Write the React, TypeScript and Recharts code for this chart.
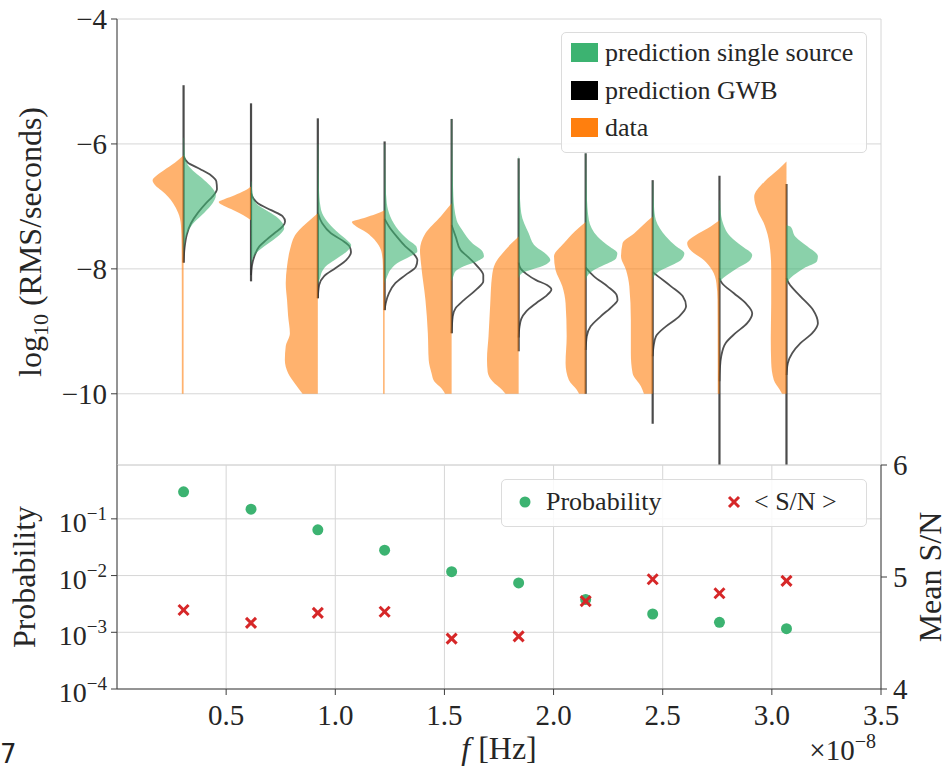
import React from "react";
import {
  Area,
  CartesianGrid,
  ComposedChart,
  Label,
  Legend,
  Line,
  ReferenceLine,
  Scatter,
  XAxis,
  YAxis,
} from "recharts";

const SERIF = '"Liberation Serif", "Times New Roman", serif';
const INK = "#262626";
const SPINE = "#3d3d3d";
const GRID = "#d6d6d6";
const ORANGE = "#ff7f0e";
const GREEN = "#3cb371";
const RED = "#d62728";

// frequency bins, in units of 1e-8 Hz
const freqs = [0.305, 0.614, 0.92, 1.226, 1.533, 1.84, 2.147, 2.454, 2.76, 3.067];

type Profile = [number, number][];

// measured RMS distribution (left halves): [log10 RMS, half-width in 1e-8 Hz]
const dataHalves: Profile[] = [
  [[-6.18, 0], [-6.3, 0.04], [-6.42, 0.09], [-6.5, 0.122], [-6.58, 0.142], [-6.66, 0.13], [-6.75, 0.1], [-6.85, 0.07], [-6.95, 0.048], [-7.1, 0.025], [-7.3, 0.012], [-7.6, 0.009], [-8.5, 0.008], [-9.5, 0.008], [-10, 0.008]],
  [[-6.68, 0], [-6.75, 0.03], [-6.82, 0.075], [-6.88, 0.12], [-6.93, 0.148], [-6.99, 0.125], [-7.06, 0.08], [-7.14, 0.035], [-7.22, 0]],
  [[-7.11, 0], [-7.22, 0.037], [-7.43, 0.098], [-7.7, 0.128], [-7.96, 0.141], [-8.23, 0.147], [-8.5, 0.141], [-8.76, 0.136], [-9.03, 0.128], [-9.24, 0.147], [-9.46, 0.151], [-9.67, 0.136], [-9.83, 0.106], [-10, 0.07]],
  [[-7.06, 0], [-7.12, 0.04], [-7.18, 0.09], [-7.25, 0.15], [-7.32, 0.13], [-7.4, 0.09], [-7.5, 0.055], [-7.62, 0.028], [-7.75, 0.013], [-7.95, 0.008], [-8.8, 0.007], [-10, 0.007]],
  [[-6.95, 0], [-7.16, 0.05], [-7.43, 0.12], [-7.7, 0.145], [-7.96, 0.139], [-8.5, 0.12], [-9.03, 0.109], [-9.46, 0.105], [-9.67, 0.092], [-9.8, 0.08], [-9.92, 0.045], [-10, 0.03]],
  [[-7.48, 0], [-7.6, 0.035], [-7.7, 0.061], [-7.91, 0.107], [-8.12, 0.122], [-8.55, 0.13], [-9.08, 0.138], [-9.45, 0.145], [-9.65, 0.142], [-9.8, 0.12], [-9.94, 0.075], [-10, 0.06]],
  [[-7.25, 0], [-7.4, 0.05], [-7.59, 0.1], [-7.8, 0.145], [-8.02, 0.138], [-8.28, 0.107], [-8.55, 0.092], [-9.08, 0.087], [-9.51, 0.092], [-9.78, 0.077], [-9.94, 0.04], [-10, 0.03]],
  [[-7.16, 0], [-7.3, 0.045], [-7.43, 0.084], [-7.59, 0.138], [-7.8, 0.145], [-8.02, 0.122], [-8.28, 0.107], [-8.82, 0.1], [-9.35, 0.1], [-9.67, 0.092], [-9.88, 0.054], [-10, 0.04]],
  [[-7.22, 0], [-7.32, 0.04], [-7.43, 0.095], [-7.59, 0.148], [-7.7, 0.133], [-7.86, 0.072], [-8.02, 0.034], [-8.23, 0.014], [-8.5, 0.009], [-9.5, 0.008], [-10, 0.008]],
  [[-6.28, 0], [-6.4, 0.035], [-6.6, 0.1], [-6.85, 0.148], [-7.05, 0.135], [-7.3, 0.1], [-7.6, 0.078], [-8.0, 0.07], [-8.55, 0.07], [-9.1, 0.072], [-9.5, 0.07], [-9.78, 0.058], [-9.94, 0.03], [-10, 0.02]],
];

// single-source prediction (right halves)
const singleHalves: Profile[] = [
  [[-5.9, 0.002], [-6.1, 0.004], [-6.25, 0.01], [-6.35, 0.022], [-6.45, 0.05], [-6.58, 0.095], [-6.7, 0.13], [-6.82, 0.148], [-6.95, 0.133], [-7.1, 0.095], [-7.25, 0.05], [-7.4, 0.02], [-7.55, 0.007], [-7.8, 0]],
  [[-6.6, 0.002], [-6.8, 0.008], [-6.95, 0.023], [-7.06, 0.069], [-7.16, 0.115], [-7.27, 0.145], [-7.35, 0.152], [-7.43, 0.138], [-7.54, 0.1], [-7.64, 0.061], [-7.75, 0.023], [-7.86, 0.005], [-7.95, 0]],
  [[-6.0, 0.002], [-6.7, 0.005], [-7.0, 0.012], [-7.11, 0.02], [-7.27, 0.05], [-7.43, 0.096], [-7.54, 0.134], [-7.62, 0.153], [-7.72, 0.134], [-7.83, 0.089], [-7.94, 0.043], [-8.04, 0.02], [-8.15, 0.01], [-8.25, 0]],
  [[-6.0, 0.002], [-6.6, 0.004], [-6.95, 0.01], [-7.16, 0.026], [-7.38, 0.064], [-7.54, 0.11], [-7.64, 0.145], [-7.72, 0.15], [-7.8, 0.118], [-7.91, 0.057], [-8.02, 0.026], [-8.12, 0.012], [-8.23, 0]],
  [[-5.6, 0.002], [-6.3, 0.004], [-6.84, 0.008], [-7.22, 0.023], [-7.38, 0.049], [-7.59, 0.095], [-7.72, 0.141], [-7.8, 0.148], [-7.88, 0.118], [-7.96, 0.056], [-8.04, 0.018], [-8.12, 0.008], [-8.2, 0]],
  [[-6.2, 0.002], [-6.68, 0.004], [-7.11, 0.012], [-7.43, 0.046], [-7.64, 0.077], [-7.78, 0.13], [-7.86, 0.145], [-7.96, 0.107], [-8.02, 0.054], [-8.07, 0.015], [-8.15, 0]],
  [[-6.15, 0.002], [-6.8, 0.005], [-7.22, 0.015], [-7.48, 0.054], [-7.64, 0.107], [-7.75, 0.145], [-7.83, 0.14], [-7.94, 0.084], [-8.02, 0.038], [-8.1, 0.011], [-8.2, 0]],
  [[-6.6, 0.002], [-7.0, 0.006], [-7.22, 0.015], [-7.48, 0.061], [-7.64, 0.107], [-7.75, 0.145], [-7.86, 0.13], [-7.96, 0.077], [-8.04, 0.03], [-8.1, 0.01], [-8.18, 0]],
  [[-6.9, 0.003], [-7.1, 0.006], [-7.22, 0.012], [-7.48, 0.05], [-7.64, 0.104], [-7.78, 0.15], [-7.88, 0.135], [-7.99, 0.081], [-8.1, 0.035], [-8.18, 0.008], [-8.25, 0]],
  [[-7.3, 0], [-7.32, 0.018], [-7.48, 0.04], [-7.64, 0.095], [-7.8, 0.144], [-7.88, 0.14], [-7.99, 0.08], [-8.1, 0.034], [-8.18, 0.01], [-8.25, 0]],
];

// background (GWB) prediction, drawn as an outline on the right side
const gwbCurves: Profile[] = [
  [[-6.2, 0], [-6.3, 0.02], [-6.4, 0.075], [-6.5, 0.125], [-6.6, 0.15], [-6.72, 0.153], [-6.84, 0.133], [-6.95, 0.102], [-7.1, 0.066], [-7.27, 0.034], [-7.45, 0.015], [-7.65, 0.005], [-7.9, 0]],
  [[-6.79, 0], [-6.88, 0.012], [-6.95, 0.031], [-7.06, 0.092], [-7.16, 0.145], [-7.24, 0.156], [-7.32, 0.145], [-7.43, 0.107], [-7.54, 0.069], [-7.64, 0.038], [-7.8, 0.015], [-7.95, 0.004], [-8.1, 0]],
  [[-7.1, 0], [-7.27, 0.02], [-7.43, 0.06], [-7.54, 0.11], [-7.64, 0.145], [-7.73, 0.152], [-7.86, 0.13], [-7.99, 0.08], [-8.12, 0.028], [-8.26, 0.006], [-8.47, 0]],
  [[-7.2, 0], [-7.32, 0.02], [-7.48, 0.055], [-7.64, 0.095], [-7.76, 0.133], [-7.86, 0.15], [-7.97, 0.143], [-8.1, 0.095], [-8.23, 0.049], [-8.39, 0.02], [-8.55, 0.005], [-8.66, 0]],
  [[-7.3, 0], [-7.5, 0.02], [-7.7, 0.041], [-7.8, 0.072], [-7.96, 0.118], [-8.1, 0.145], [-8.2, 0.145], [-8.34, 0.11], [-8.5, 0.056], [-8.63, 0.018], [-8.76, 0.005], [-9.03, 0]],
  [[-7.9, 0], [-8.0, 0.01], [-8.08, 0.035], [-8.18, 0.08], [-8.26, 0.13], [-8.33, 0.15], [-8.42, 0.13], [-8.55, 0.08], [-8.68, 0.035], [-8.8, 0.012], [-8.95, 0.003], [-9.1, 0]],
  [[-7.98, 0], [-8.12, 0.038], [-8.28, 0.1], [-8.42, 0.142], [-8.5, 0.146], [-8.6, 0.122], [-8.76, 0.069], [-8.92, 0.023], [-9.08, 0.005], [-9.3, 0]],
  [[-8.05, 0], [-8.12, 0.025], [-8.28, 0.084], [-8.44, 0.138], [-8.6, 0.153], [-8.76, 0.122], [-8.92, 0.061], [-9.08, 0.015], [-9.24, 0.004], [-9.4, 0]],
  [[-8.15, 0], [-8.23, 0.012], [-8.39, 0.066], [-8.55, 0.12], [-8.71, 0.15], [-8.87, 0.127], [-9.03, 0.073], [-9.19, 0.028], [-9.4, 0.008], [-9.6, 0.002], [-9.8, 0]],
  [[-8.15, 0], [-8.23, 0.011], [-8.44, 0.064], [-8.66, 0.122], [-8.87, 0.144], [-9.03, 0.118], [-9.19, 0.064], [-9.35, 0.026], [-9.51, 0.006], [-9.7, 0]],
];

// full extent of each GWB prediction: [top, bottom]
const gwbRanges: [number, number][] = [
  [-5.06, -7.9], [-5.35, -8.2], [-5.59, -8.47], [-5.96, -8.66], [-5.6, -9.03],
  [-6.23, -9.32], [-6.15, -10.0], [-6.58, -10.48], [-6.51, -11.6], [-6.64, -11.6],
];

// lower panel
const probability = [0.3, 0.148, 0.064, 0.028, 0.0117, 0.0074, 0.0038, 0.0021, 0.0015, 0.00116];
const meanSnr = [4.705, 4.59, 4.68, 4.69, 4.45, 4.47, 4.785, 4.98, 4.855, 4.965];

const xTicks = [0.5, 1, 1.5, 2, 2.5, 3, 3.5];
const rmsTicks = [-4, -6, -8, -10];
const rmsDomain: [number, number] = [-11.14, -4];
const probTicks = [1e-4, 1e-3, 1e-2, 1e-1];
const probDomain: [number, number] = [1e-4, 0.89];
const probMinor = [-4, -3, -2, -1].flatMap((e) => [2, 3, 4, 5, 6, 7, 8, 9].map((m) => m * 10 ** e));
const snrTicks = [4, 5, 6];

const upperLegend = [
  { label: "prediction single source", color: GREEN },
  { label: "prediction GWB", color: "#000000" },
  { label: "data", color: ORANGE },
];

const minus = (v: number) => (v < 0 ? `\u2212${-v}` : `${v}`);
const serifStyle = { fontFamily: SERIF };
const tickFont = { fontSize: 29, fill: INK, style: serifStyle };

function PowTick(props: any) {
  const { x, y, payload } = props;
  const exp = Math.round(Math.log10(payload.value));
  return (
    <text x={x} y={y + 13} textAnchor="end" style={serifStyle} fontSize={28} fill={INK}>
      10
      <tspan dy={-12} fontSize={19}>{minus(exp)}</tspan>
    </text>
  );
}

function Dot(props: any) {
  return <circle cx={props.cx} cy={props.cy} r={5.5} fill={GREEN} />;
}

function Cross(props: any) {
  const { cx, cy } = props;
  const s = 5;
  return (
    <g stroke={RED} strokeWidth={3}>
      <line x1={cx - s} y1={cy - s} x2={cx + s} y2={cy + s} />
      <line x1={cx - s} y1={cy + s} x2={cx + s} y2={cy - s} />
    </g>
  );
}

function UpperLegendBox() {
  return (
    <div
      style={{
        position: "relative",
        width: 306,
        height: 121,
        boxSizing: "border-box",
        border: "1px solid #dcdcdc",
        borderRadius: 5,
        background: "rgba(255,255,255,0.85)",
        fontFamily: SERIF,
        fontSize: 26,
        color: INK,
      }}
    >
      {upperLegend.map((item, i) => (
        <div key={item.label} style={{ position: "absolute", left: 9, top: 10 + i * 37.5, height: 19, display: "flex", alignItems: "center" }}>
          <span style={{ display: "inline-block", width: 27, height: 19, background: item.color }} />
          <span style={{ marginLeft: 7, whiteSpace: "nowrap", lineHeight: "19px" }}>{item.label}</span>
        </div>
      ))}
    </div>
  );
}

function LowerLegendBox() {
  return (
    <div
      style={{
        position: "relative",
        width: 366,
        height: 48,
        boxSizing: "border-box",
        border: "1px solid #dcdcdc",
        borderRadius: 5,
        background: "rgba(255,255,255,0.85)",
        fontFamily: SERIF,
        fontSize: 26,
        color: INK,
      }}
    >
      <svg width={366} height={48} style={{ position: "absolute", left: 0, top: 0 }}>
        <circle cx={23} cy={22} r={5.5} fill={GREEN} />
        <Cross cx={232} cy={22} />
      </svg>
      <span style={{ position: "absolute", left: 44, top: 8, lineHeight: "28px", whiteSpace: "nowrap" }}>Probability</span>
      <span style={{ position: "absolute", left: 252, top: 8, lineHeight: "28px", whiteSpace: "nowrap" }}>&lt; S/N &gt;</span>
    </div>
  );
}

function ViolinPanel() {
  return (
    <ComposedChart layout="vertical" width={947} height={470} margin={{ top: 19, right: 66, bottom: 5, left: 0 }}>
      <CartesianGrid stroke={GRID} strokeWidth={1} />
      <XAxis type="number" domain={[0, 3.5]} ticks={xTicks} allowDataOverflow height={0} tick={false} tickLine={false} axisLine={{ stroke: SPINE }} />
      <XAxis xAxisId="top" orientation="top" type="number" domain={[0, 3.5]} ticks={xTicks} allowDataOverflow height={0} tick={false} tickSize={6} tickLine={{ stroke: SPINE }} axisLine={{ stroke: SPINE }} />
      <YAxis
        type="number"
        dataKey="y"
        domain={rmsDomain}
        ticks={rmsTicks}
        reversed
        allowDataOverflow
        width={117}
        tickSize={6}
        tickMargin={4}
        tickFormatter={minus}
        tick={tickFont}
        tickLine={{ stroke: SPINE }}
        axisLine={{ stroke: SPINE }}
      >
        <Label
          content={(p: any) => {
            const vb = p.viewBox;
            const cx = vb.x + 30;
            const cy = vb.y + vb.height / 2;
            return (
              <text x={cx} y={cy} transform={`rotate(-90 ${cx} ${cy})`} textAnchor="middle" dy={11} style={serifStyle} fontSize={32} fill={INK}>
                log<tspan fontSize={22} dy={7}>10</tspan>
                <tspan dy={-7}> (RMS/seconds)</tspan>
              </text>
            );
          }}
        />
      </YAxis>
      <YAxis yAxisId="right" orientation="right" type="number" domain={rmsDomain} ticks={rmsTicks} reversed allowDataOverflow width={0} tick={false} tickSize={6} tickLine={{ stroke: SPINE }} axisLine={{ stroke: SPINE }} />

      {freqs.map((f, i) => (
        <React.Fragment key={i}>
          <ReferenceLine
            segment={[{ x: f, y: gwbRanges[i][0] }, { x: f, y: gwbRanges[i][1] }]}
            ifOverflow="hidden"
            stroke="#2b2b2b"
            strokeOpacity={0.85}
            strokeWidth={2.2}
            zIndex={50}
          />
          <Line
            data={gwbCurves[i].map(([y, w]) => ({ y, x: f + w }))}
            dataKey="x"
            type="monotone"
            stroke="#333333"
            strokeOpacity={0.85}
            strokeWidth={1.8}
            dot={false}
            activeDot={false}
            isAnimationActive={false}
            zIndex={50}
          />
          <Area
            data={dataHalves[i].map(([y, w]) => ({ y, x: [f - w, f] }))}
            dataKey="x"
            type="monotone"
            stroke="none"
            fill={ORANGE}
            fillOpacity={0.6}
            dot={false}
            activeDot={false}
            isAnimationActive={false}
          />
          <Area
            data={singleHalves[i].map(([y, w]) => ({ y, x: [f, f + w] }))}
            dataKey="x"
            type="monotone"
            stroke="none"
            fill={GREEN}
            fillOpacity={0.6}
            dot={false}
            activeDot={false}
            isAnimationActive={false}
          />
        </React.Fragment>
      ))}

      <Legend
        layout="vertical"
        align="center"
        verticalAlign="middle"
        wrapperStyle={{ left: 561, top: 32, width: 306, height: 121 }}
        content={() => <UpperLegendBox />}
      />
    </ComposedChart>
  );
}

function ProbabilityPanel() {
  const rows = freqs.map((f, i) => ({ f, prob: probability[i], snr: meanSnr[i] }));
  return (
    <ComposedChart width={947} height={329} data={rows} margin={{ top: 25, right: 0, bottom: 0, left: 0 }}>
      <CartesianGrid stroke={GRID} strokeWidth={1} />
      <XAxis
        type="number"
        dataKey="f"
        domain={[0, 3.5]}
        ticks={xTicks}
        allowDataOverflow
        height={80}
        tickSize={6}
        tickMargin={9}
        tickFormatter={(v: number) => v.toFixed(1)}
        tick={tickFont}
        tickLine={{ stroke: SPINE }}
        axisLine={{ stroke: SPINE }}
      >
        <Label
          content={(p: any) => {
            const vb = p.viewBox;
            return (
              <g fill={INK}>
                <text x={vb.x + vb.width / 2} y={vb.y + 70} textAnchor="middle" style={serifStyle} fontSize={32}>
                  <tspan fontStyle="italic">f</tspan> [Hz]
                </text>
                <text x={vb.x + vb.width - 5} y={vb.y + 71} textAnchor="end" style={serifStyle} fontSize={29}>
                  ×10<tspan dy={-12} fontSize={20}>{"\u22128"}</tspan>
                </text>
              </g>
            );
          }}
        />
      </XAxis>
      <XAxis xAxisId="top" orientation="top" type="number" domain={[0, 3.5]} ticks={xTicks} allowDataOverflow height={0} tick={false} tickSize={6} tickLine={{ stroke: SPINE }} axisLine={{ stroke: SPINE }} />
      <YAxis yAxisId="minor" scale="log" type="number" domain={probDomain} ticks={probMinor} allowDataOverflow width={0} tick={false} tickSize={3} tickLine={{ stroke: SPINE }} axisLine={false} />
      <YAxis
        scale="log"
        type="number"
        domain={probDomain}
        ticks={probTicks}
        allowDataOverflow
        width={117}
        tickSize={6}
        tickMargin={4}
        tick={<PowTick />}
        tickLine={{ stroke: SPINE }}
        axisLine={{ stroke: SPINE }}
      >
        <Label
          content={(p: any) => {
            const vb = p.viewBox;
            const cx = vb.x + 24;
            const cy = vb.y + vb.height / 2;
            return (
              <text x={cx} y={cy} transform={`rotate(-90 ${cx} ${cy})`} textAnchor="middle" dy={11} style={serifStyle} fontSize={32} fill={INK}>
                Probability
              </text>
            );
          }}
        />
      </YAxis>
      <YAxis
        yAxisId="snr"
        orientation="right"
        type="number"
        domain={[4, 6]}
        ticks={snrTicks}
        allowDataOverflow
        width={66}
        tickSize={6}
        tickMargin={6}
        tick={tickFont}
        tickLine={{ stroke: SPINE }}
        axisLine={{ stroke: SPINE }}
      >
        <Label
          content={(p: any) => {
            const vb = p.viewBox;
            const cx = vb.x + 49;
            const cy = vb.y + vb.height / 2;
            return (
              <text x={cx} y={cy} transform={`rotate(-90 ${cx} ${cy})`} textAnchor="middle" dy={11} style={serifStyle} fontSize={32} fill={INK}>
                Mean S/N
              </text>
            );
          }}
        />
      </YAxis>
      <Scatter dataKey="prob" shape={Dot} isAnimationActive={false} />
      <Scatter yAxisId="snr" dataKey="snr" shape={Cross} isAnimationActive={false} />
      <Legend
        layout="vertical"
        align="center"
        verticalAlign="middle"
        wrapperStyle={{ left: 501, top: 39, width: 366, height: 48 }}
        content={() => <LowerLegendBox />}
      />
    </ComposedChart>
  );
}

export default function App() {
  return (
    <div style={{ position: "absolute", left: 0, top: 0, width: 947, height: 769, background: "#fff", overflow: "hidden" }}>
      <style>{`.recharts-surface text { font-family: "Liberation Serif", "Times New Roman", serif; }`}</style>
      <div style={{ position: "absolute", left: 0, top: 0 }}>
        <ViolinPanel />
      </div>
      <div style={{ position: "absolute", left: 0, top: 440 }}>
        <ProbabilityPanel />
      </div>
      <div style={{ position: "absolute", left: 0, top: 741, fontFamily: '"DejaVu Sans", sans-serif', fontSize: 26, lineHeight: "26px", color: "#222" }}>
        7
      </div>
    </div>
  );
}
